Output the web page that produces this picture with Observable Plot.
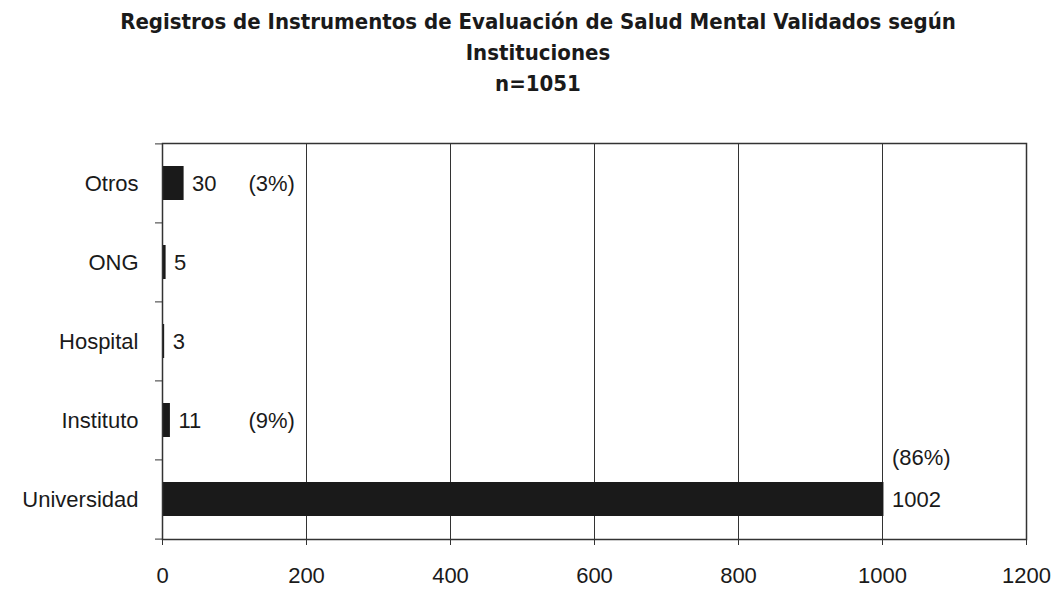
<!DOCTYPE html>
<html><head><meta charset="utf-8">
<script src="https://cdn.jsdelivr.net/npm/d3@7"></script>
<script src="https://cdn.jsdelivr.net/npm/@observablehq/plot@0.6"></script>
<style>
body{margin:0;background:#fff;width:1056px;height:590px;overflow:hidden}
#title{font-family:"DejaVu Sans Condensed","DejaVu Sans",sans-serif;font-stretch:condensed;font-weight:bold;font-size:22px;line-height:31px;text-align:center;color:#1a1a1a;padding-top:6px;width:1076px;height:95px}
#chart svg{display:block}
</style></head><body>
<div id="title">Registros de Instrumentos de Evaluación de Salud Mental Validados según<br>Instituciones<br>n=1051</div>
<div id="chart"></div>
<script>
const categories = ["Otros","ONG","Hospital","Instituto","Universidad"];
const values = [30,5,3,11,1002];
const percents = ["(3%)","","","(9%)","(86%)"];
const xTicks = [0,200,400,600,800,1000,1200];

const data = categories.map((c,i)=>({cat:c, v:values[i], p:percents[i]}));
const H = 489, mt = 42, mb = 51;
const step = (H-mt-mb)/categories.length;
const font = "'Liberation Sans', Arial, sans-serif";

const chart = Plot.plot({
  width:1056, height:H,
  marginLeft:162, marginRight:30, marginTop:mt, marginBottom:mb,
  style:{fontFamily:font, fontSize:"22px", color:"#1a1a1a", background:"#fff"},
  x:{domain:[0,1200], ticks:xTicks},
  y:{domain:categories, paddingInner:0.57, paddingOuter:0.285},
  marks:[
    Plot.ruleX(xTicks.slice(1,-1), {stroke:"#333", strokeWidth:1}),
    Plot.barX(data, {x:"v", y:"cat", fill:"#1a1a1a"}),
    Plot.frame({stroke:"#333", strokeWidth:1.5}),
    Plot.ruleY(categories, {y:d=>d, x1:0, x2:0, insetLeft:-7, dy:-step/2, stroke:"#333"}),
    Plot.ruleY(categories.slice(-1), {y:d=>d, x1:0, x2:0, insetLeft:-7, dy:step/2, stroke:"#333"}),
    Plot.axisX({ticks:xTicks, tickFormat:d=>String(d), tickSize:6, tickPadding:22, fontSize:22, stroke:"#333", label:null}),
    Plot.axisY({tickSize:0, tickPadding:24, fontSize:22, label:null}),
    Plot.text(data, {x:"v", y:"cat", text:d=>String(d.v), dx:8, textAnchor:"start", fontSize:22, fill:"#1a1a1a"}),
    Plot.text(data.filter(d=>d.p && d.cat!=="Universidad"), {y:"cat", text:"p", frameAnchor:"left", dx:86, textAnchor:"start", fontSize:22, fill:"#1a1a1a"}),
    Plot.text(data.filter(d=>d.cat==="Universidad"), {x:"v", y:"cat", text:"p", dx:8, dy:-42, textAnchor:"start", fontSize:22, fill:"#1a1a1a"})
  ]
});
document.getElementById("chart").appendChild(chart);
</script>
</body></html>
